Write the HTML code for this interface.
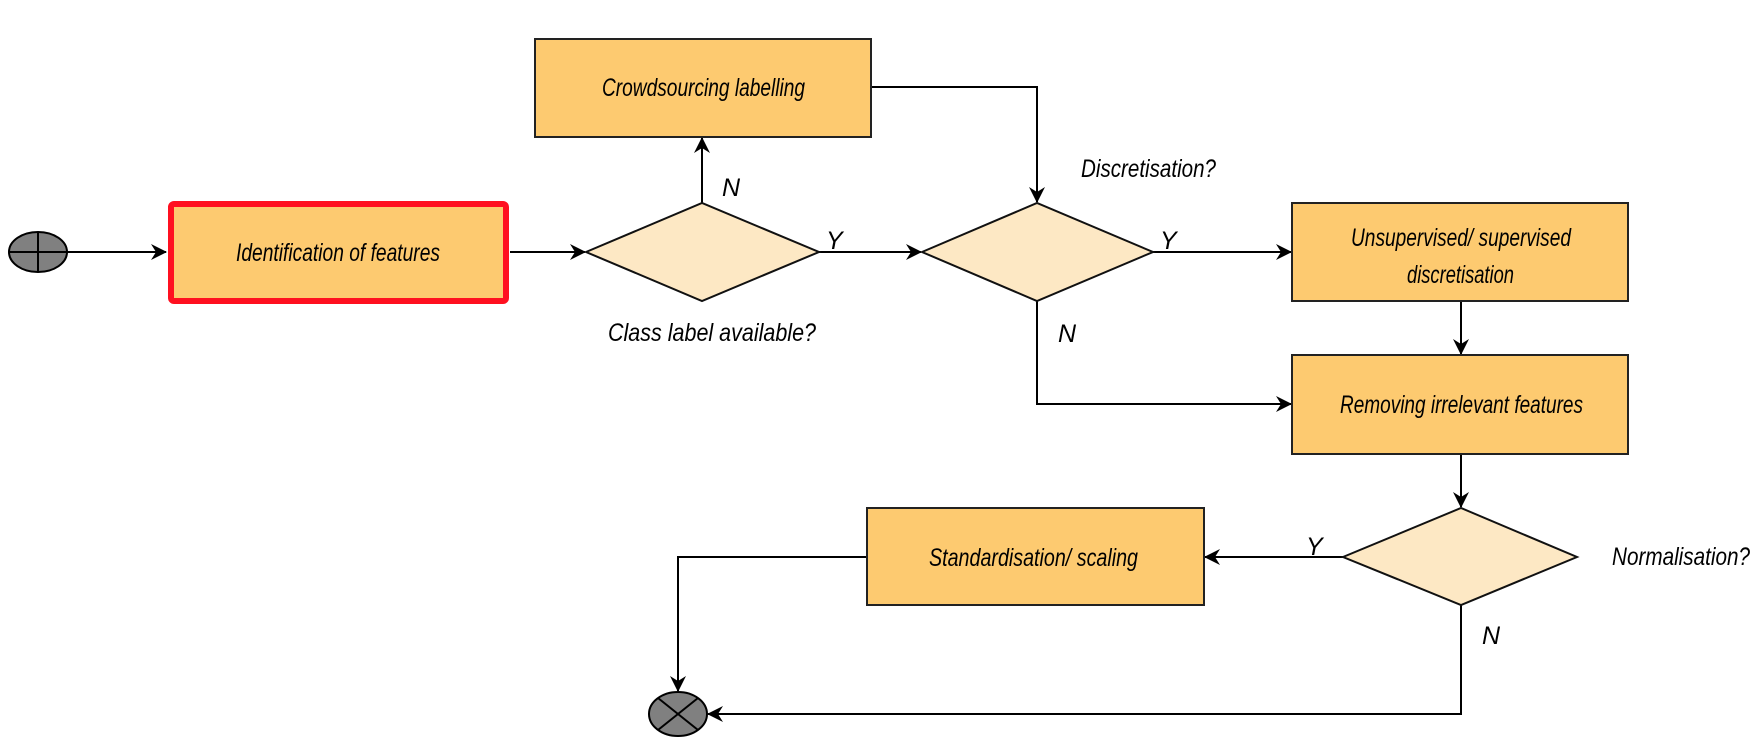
<!DOCTYPE html>
<html><head><meta charset="utf-8"><style>
html,body{margin:0;padding:0;background:#fff;width:1764px;height:756px;overflow:hidden}
text{font-family:"Liberation Sans Narrow","Liberation Sans",sans-serif;font-style:italic;font-size:25px;fill:#000}
</style></head><body>
<svg width="1764" height="756" viewBox="0 0 1764 756" xmlns="http://www.w3.org/2000/svg">
<defs>
<marker id="a" viewBox="0 0 16 16" refX="15" refY="8" markerWidth="16" markerHeight="16" markerUnits="userSpaceOnUse" orient="auto">
<path d="M0,0 L16,8 L0,16 L5,8 Z" fill="#000"/></marker>
</defs>
<g stroke="#000" stroke-width="2" fill="none">
<line x1="67" y1="252" x2="166" y2="252" marker-end="url(#a)"/>
<line x1="510" y1="252" x2="585" y2="252" marker-end="url(#a)"/>
<line x1="702" y1="203" x2="702" y2="138" marker-end="url(#a)"/>
<polyline points="871,87 1037,87 1037,202" marker-end="url(#a)"/>
<line x1="819" y1="252" x2="921" y2="252" marker-end="url(#a)"/>
<line x1="1153" y1="252" x2="1291" y2="252" marker-end="url(#a)"/>
<polyline points="1037,301 1037,404 1291,404" marker-end="url(#a)"/>
<line x1="1461" y1="301" x2="1461" y2="354" marker-end="url(#a)"/>
<line x1="1461" y1="454" x2="1461" y2="507" marker-end="url(#a)"/>
<line x1="1343" y1="557" x2="1205" y2="557" marker-end="url(#a)"/>
<polyline points="867,557 678,557 678,691" marker-end="url(#a)"/>
<polyline points="1461,605 1461,714 708,714" marker-end="url(#a)"/>
</g>
<ellipse cx="38" cy="252" rx="29" ry="20" fill="#808080" stroke="#000" stroke-width="2"/>
<line x1="9" y1="252" x2="67" y2="252" stroke="#000" stroke-width="2"/>
<line x1="38" y1="232" x2="38" y2="272" stroke="#000" stroke-width="2"/>
<ellipse cx="678" cy="714" rx="29" ry="22" fill="#808080" stroke="#000" stroke-width="2"/>
<line x1="658" y1="698" x2="698" y2="730" stroke="#000" stroke-width="2"/>
<line x1="698" y1="698" x2="658" y2="730" stroke="#000" stroke-width="2"/>
<rect x="171" y="204" width="335" height="97" rx="3" fill="#fdca70" stroke="#ff1020" stroke-width="6"/>
<rect x="535" y="39" width="336" height="98" fill="#fdca70" stroke="#222" stroke-width="2"/>
<rect x="1292" y="203" width="336" height="98" fill="#fdca70" stroke="#222" stroke-width="2"/>
<rect x="1292" y="355" width="336" height="99" fill="#fdca70" stroke="#222" stroke-width="2"/>
<rect x="867" y="508" width="337" height="97" fill="#fdca70" stroke="#222" stroke-width="2"/>
<g fill="#fde8c4" stroke="#111" stroke-width="2">
<polygon points="586,252 702,203 819,252 702,301"/>
<polygon points="922,252 1037,203 1153,252 1037,301"/>
<polygon points="1343,557 1461,508 1577,557 1461,605"/>
</g>
<text x="236" y="261" textLength="204" lengthAdjust="spacingAndGlyphs">Identification of features</text>
<text x="602" y="96" textLength="203" lengthAdjust="spacingAndGlyphs">Crowdsourcing labelling</text>
<text x="1351" y="246" textLength="220" lengthAdjust="spacingAndGlyphs">Unsupervised/ supervised</text>
<text x="1407" y="283" textLength="107" lengthAdjust="spacingAndGlyphs">discretisation</text>
<text x="1340" y="413" textLength="243" lengthAdjust="spacingAndGlyphs">Removing irrelevant features</text>
<text x="929" y="566" textLength="209" lengthAdjust="spacingAndGlyphs">Standardisation/ scaling</text>
<text x="608" y="341" textLength="208" lengthAdjust="spacingAndGlyphs">Class label available?</text>
<text x="1081" y="177" textLength="135" lengthAdjust="spacingAndGlyphs">Discretisation?</text>
<text x="1612" y="565" textLength="138" lengthAdjust="spacingAndGlyphs">Normalisation?</text>
<text x="722" y="196">N</text>
<text x="826" y="249">Y</text>
<text x="1160" y="249">Y</text>
<text x="1058" y="342">N</text>
<text x="1306" y="555">Y</text>
<text x="1482" y="644">N</text>
</svg>
</body></html>
